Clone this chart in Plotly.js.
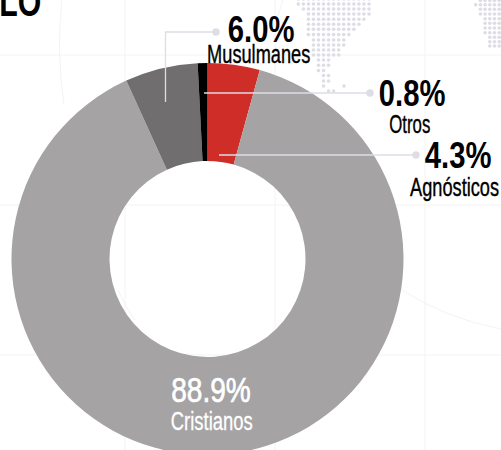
<!DOCTYPE html>
<html><head><meta charset="utf-8">
<script src="https://cdn.plot.ly/plotly-3.0.1.min.js"></script>
<style>html,body{margin:0;padding:0;width:501px;height:450px;overflow:hidden;background:#fff}</style>
</head><body><div id="chart"></div>
<script>
var categories = ['Agnósticos','Cristianos','Musulmanes','Otros'];
var shares = [4.3,88.9,6.0,0.8];
var sliceColors = ['#CE2E27','#A5A3A4','#706E6F','#000000'];

// Rows of the dotted background map: [y, firstColumn, lastColumn]
var mapRowsLeft = [[-1,0,14],[4,0,14],[9,1,14],[14,2,14],[19.3,2,13],[24.3,2,12],[29.3,2,11],[34.6,2,10],[40,3,9],[45,3,9],[50,3,8],[55,3,8],[60,4,6],[65.3,4,6],[70.6,4,5],[75.6,5,6],[81,5,6],[86,5,5],[91,6,7]];
var mapRowsRight = [[0.5,1,5],[4.7,0,5],[9.3,1,5],[14,1,5],[18.7,2,5],[23.3,2,5],[28,2,5],[32.7,2,5],[37.3,3,5],[41.7,3,5],[46,3,5]];
var gridX = [125,275,425];
var gridY = [55,205,355];

var W = 501, H = 520;
var cx = 207.5, cy = 259, R = 196;

function dots(rows, x0, step){
  var xs=[], ys=[];
  rows.forEach(function(r){ for(var i=r[1];i<=r[2];i++){ xs.push(x0+step*i); ys.push(r[0]); } });
  return {x:xs,y:ys};
}
var dL = dots(mapRowsLeft,298.3,5.05), dR = dots(mapRowsRight,475.7,4.7);
var extraX = dL.x.concat(dR.x, [344]), extraY = dL.y.concat(dR.y, [86]);

var mapTrace = {type:'scatter',mode:'markers',x:extraX,y:extraY,xaxis:'x',yaxis:'y',
  marker:{size:3.6,color:'#DDDDE5'},hoverinfo:'skip',showlegend:false};
var pie = {type:'pie',labels:categories,values:shares,sort:false,direction:'clockwise',rotation:0,hole:0.5,
  marker:{colors:sliceColors,line:{width:0}},textinfo:'none',hoverinfo:'label+percent',showlegend:false,
  domain:{x:[(cx-R)/W,(cx+R)/W],y:[(H-cy-R)/H,(H-cy+R)/H]}};

var gridC='#F3F3F5', leadC='#DDDDE5';
var shapes=[];
gridX.forEach(function(x){shapes.push({type:'line',layer:'below',xref:'x',yref:'y',x0:x,x1:x,y0:0,y1:H,line:{color:gridC,width:1}});});
gridY.forEach(function(y){shapes.push({type:'line',layer:'below',xref:'x',yref:'y',x0:0,x1:W,y0:y,y1:y,line:{color:gridC,width:1}});});
['M 62 0 Q 56 50 64 105','M 283 0 L 275 25','M 402 290 Q 445 318 501 329','M 118 290 Q 124 305 135 320'].forEach(function(p){
  shapes.push({type:'path',layer:'below',xref:'x',yref:'y',path:p,line:{color:gridC,width:1}});
});
['M 165.5 102 L 165.5 32 L 216 32','M 204 93 L 370 93','M 219 155 L 416 155'].forEach(function(p){
  shapes.push({type:'path',layer:'above',xref:'x',yref:'y',path:p,line:{color:leadC,width:1.3}});
});
[[216,32],[370,93],[416,155]].forEach(function(c){
  shapes.push({type:'circle',layer:'above',xref:'x',yref:'y',x0:c[0]-3.7,x1:c[0]+3.7,y0:c[1]-3.7,y1:c[1]+3.7,fillcolor:leadC,line:{width:0}});
});

var F='"Liberation Sans", Arial, sans-serif';
function ann(t,x,y,size,color,bold){
  return {text:bold?'<b>'+t+'</b>':t,x:x,y:y,xref:'x',yref:'y',showarrow:false,xanchor:'center',yanchor:'middle',
    font:{family:F,size:size,color:color}};
}
var annotations=[
  ann('LO',20,1,42,'#000',true),
  ann('6.0%',260.5,29,37,'#000',true),
  ann('Musulmanes',258,54,26,'#000',false),
  ann('0.8%',411.5,93,37,'#000',true),
  ann('Otros',409.5,124,26,'#000',false),
  ann('4.3%',457.5,155,37,'#000',true),
  ann('Agnósticos',454.5,187,26,'#000',false),
  ann('88.9%',210.5,389,36,'#fff',false),
  ann('Cristianos',211.5,421,26,'#fff',false)
];
var textScaleX=[0.72,0.79,0.70,0.79,0.645,0.79,0.70,0.78,0.71];
var textStroke=[0,0,0.4,0,0.4,0,0.4,0.7,0.3];

var layout={width:W,height:H,margin:{l:0,r:0,t:0,b:0,pad:0},paper_bgcolor:'#fff',plot_bgcolor:'rgba(0,0,0,0)',
  showlegend:false,shapes:shapes,annotations:annotations,
  xaxis:{range:[0,W],visible:false,fixedrange:true},
  yaxis:{range:[H,0],visible:false,fixedrange:true}};
Plotly.newPlot('chart',[mapTrace,pie],layout,{displayModeBar:false,staticPlot:true}).then(function(gd){
  var texts=gd.querySelectorAll('.annotation text');
  texts.forEach(function(t,i){
    var b=t.getBBox(), c=b.x+b.width/2;
    t.setAttribute('transform','translate('+c+',0) scale('+textScaleX[i]+',1) translate('+(-c)+',0)');
    if(textStroke[i]){t.style.stroke=annotations[i].font.color;t.style.strokeWidth=textStroke[i]+'px';}
  });
});
</script></body></html>
